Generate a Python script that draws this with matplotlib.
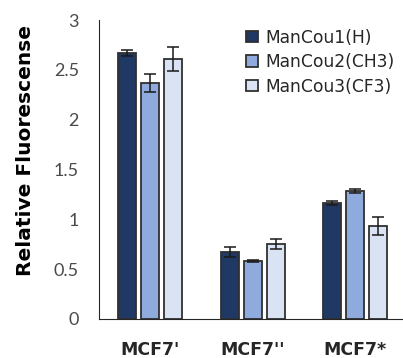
import numpy as np
import matplotlib.pyplot as plt

plt.rcParams['font.family'] = ['Lato', 'DejaVu Sans']

groups = ["MCF7'", "MCF7''", "MCF7*"]
series = ['ManCou1(H)', 'ManCou2(CH3)', 'ManCou3(CF3)']
values = [
	[2.67, 0.67, 1.16],
	[2.37, 0.58, 1.28],
	[2.61, 0.755, 0.93],
]
errors = [
	[0.03, 0.05, 0.02],
	[0.09, 0.01, 0.02],
	[0.12, 0.05, 0.09],
]
colors = ['#203864', '#8faadc', '#dae3f3']

fig = plt.figure(figsize=(4.03, 3.58), dpi=100)
ax = fig.add_axes([0.2457, 0.109, 0.7543, 0.835])

x = np.arange(len(groups))
width = 0.176
step = 0.225
for i, (vals, errs) in enumerate(zip(values, errors)):
	ax.bar(x + (i - 1) * step, vals, width, yerr=errs, color=colors[i],
		   edgecolor='#303030', linewidth=1.3, label=series[i],
		   error_kw=dict(ecolor='#1a1a1a', elinewidth=1.1, capsize=4, capthick=1.1))

ax.set_xlim(-0.5, 2.47)
ax.set_ylim(0, 3)
ax.set_yticks([0, 0.5, 1, 1.5, 2, 2.5, 3])
ax.set_yticklabels(['0', '0.5', '1', '1.5', '2', '2.5', '3'])
ax.set_xticks(x)
ax.set_xticklabels(groups, fontweight='bold', fontsize=12.5, family='DejaVu Sans')
ax.tick_params(axis='y', length=0, pad=14.5, labelsize=13, colors='#4a4a4a')
ax.tick_params(axis='x', length=0, pad=16, colors='#262626')
ax.spines['top'].set_visible(False)
ax.spines['right'].set_visible(False)
ax.spines['left'].set_color('#262626')
ax.spines['bottom'].set_color('#262626')
ax.set_ylabel('Relative Fluorescense', fontweight='bold', fontsize=14.5,
			  family='DejaVu Sans')
ax.yaxis.set_label_coords(-0.21, 0.562)

leg = ax.legend(loc='upper right', bbox_to_anchor=(1.0, 1.0), frameon=False,
				prop={'family': 'DejaVu Sans', 'size': 12.3},
				handlelength=0.65, handleheight=0.65, handletextpad=0.45,
				labelspacing=0.38, borderaxespad=0.1)
for t in leg.get_texts():
	t.set_color('#262626')

fig.savefig('out.png', dpi=100)
